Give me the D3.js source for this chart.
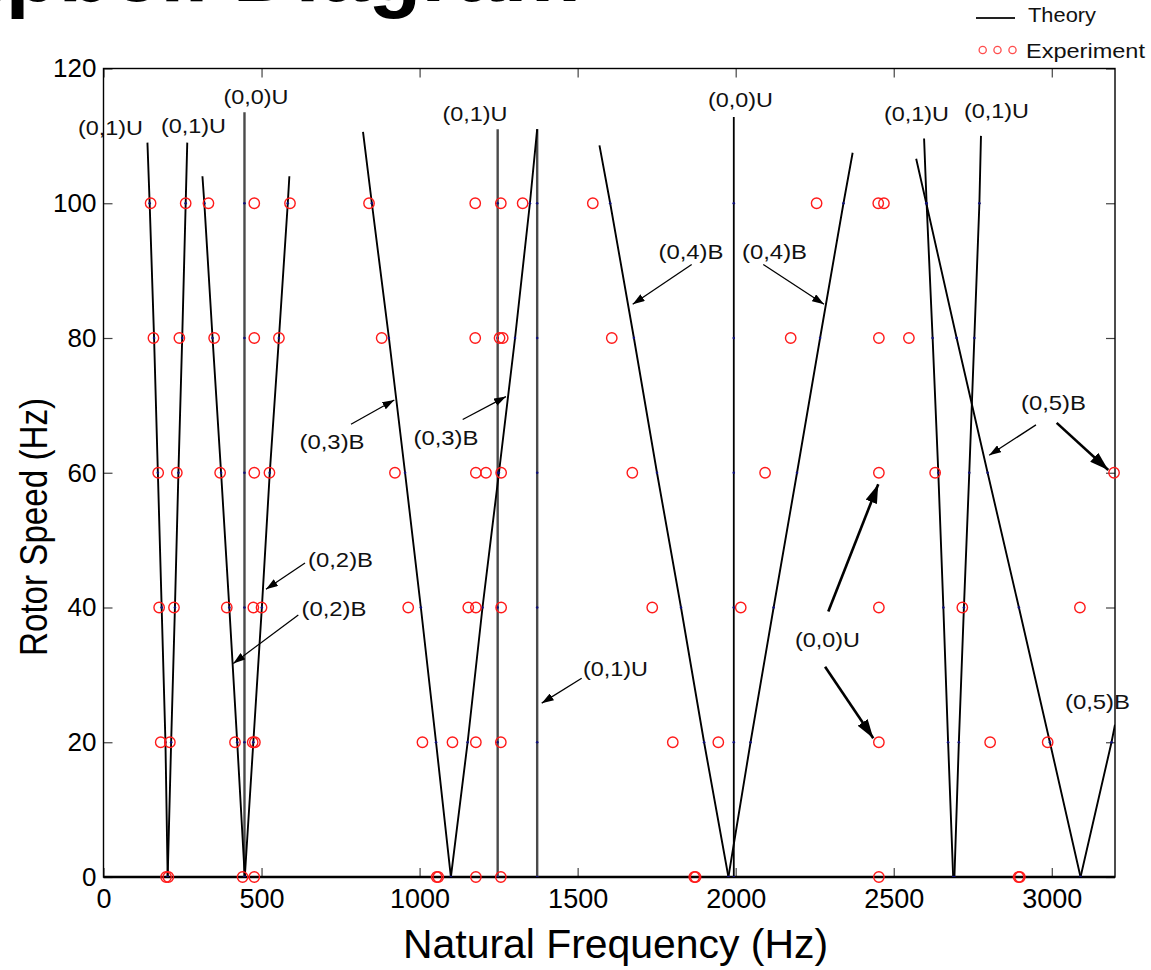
<!DOCTYPE html>
<html>
<head>
<meta charset="utf-8">
<script src="https://cdn.jsdelivr.net/npm/d3@7"></script>
<style>
  body { margin: 0; background: #fff; }
  svg { display: block; }
  text { font-family: "Liberation Sans", Arial, Helvetica, sans-serif; }
</style>
</head>
<body>
<svg id="chart" width="1151" height="970"></svg>
<script>
// ---- Axis ticks ----
const freqTicks = [0, 500, 1000, 1500, 2000, 2500, 3000];
const speedTicks = [0, 20, 40, 60, 80, 100, 120];

// ---- Measured natural frequencies (Hz) at each rotor speed ----
const rotorSpeeds = [0, 20, 40, 60, 80, 100];
const expAt0   = [198, 205, 440, 477, 1054, 1059, 1178, 1257, 1869, 1873, 2453, 2895, 2899];
const expAt20  = [181, 210, 416, 472, 479, 1009, 1104, 1178, 1257, 1801, 1945, 2453, 2805, 2987];
const expAt40  = [176, 223, 390, 474, 500, 964, 1154, 1178, 1258, 1736, 2016, 2453, 2717, 3089];
const expAt60  = [173, 232, 369, 477, 525, 922, 1178, 1210, 1258, 1673, 2093, 2453, 2631, 3197];
const expAt80  = [158, 240, 350, 477, 555, 880, 1176, 1253, 1263, 1608, 2174, 2453, 2548];
const expAt100 = [149, 260, 332, 477, 590, 840, 1176, 1257, 1326, 1548, 2256, 2451, 2469];

// ---- Predicted branches: [rotor speed, frequency]; the last pair is the line end ----
const mode01aBack = [[0,203],[20,196],[40,184],[60,172],[80,160],[100,146],[109,139]];
const mode01aFwd  = [[0,203],[20,214],[40,226],[60,237],[80,249],[100,260],[109,265]];
const mode02Back  = [[0,447],[20,423],[40,398],[60,372],[80,345],[100,319],[104,313]];
const mode02Fwd   = [[0,447],[20,474],[40,501],[60,526],[80,555],[100,583],[104,588]];
const mode03Back  = [[0,1099],[20,1052],[40,1004],[60,954],[80,903],[100,849],[110.6,821]];
const mode03Fwd   = [[0,1099],[20,1152],[40,1199],[60,1251],[80,1302],[100,1349],[111,1372]];
const mode04Back  = [[0,1977],[20,1900],[40,1827],[60,1751],[80,1678],[100,1603],[108.6,1569]];
const mode04Fwd   = [[0,1977],[20,2047],[40,2120],[60,2194],[80,2267],[100,2341],[107.5,2370]];
const mode01bBack = [[0,2688],[20,2672],[40,2657],[60,2641],[80,2623],[100,2604],[109.6,2596]];
const mode01bFwd  = [[0,2692],[20,2706],[40,2722],[60,2739],[80,2755],[100,2771],[110,2776]];
const mode05Back  = [[0,3091],[20,2994],[40,2896],[60,2797],[80,2699],[100,2603],[106.6,2571]];
const mode05Fwd   = [[0,3091],[20,3189],[22.6,3200]];

// Speed-independent modes: frequency and top speed of the line
const fixedFreq = [446, 1247, 1372, 1994];
const fixedTop  = [113.5, 111, 111, 112.8];

// ---- Annotations ----
const labelText  = ["(0,1)U","(0,1)U","(0,0)U","(0,1)U","(0,0)U","(0,1)U","(0,1)U",
                    "(0,4)B","(0,4)B","(0,3)B","(0,3)B","(0,2)B","(0,2)B","(0,1)U",
                    "(0,5)B","(0,0)U","(0,5)B"];
const labelFreq  = [22.1, 284.7, 482.4, 1175.3, 2015.2, 2572, 2825,
                    1858.6, 2122.8, 722.9, 1083.5, 749.8, 729.2, 1619.7,
                    3005.4, 2290.4, 3144.6];
const labelSpeed = [111.2, 111.6, 115.8, 113.4, 115.4, 113.3, 113.8,
                    92.9, 92.9, 64.7, 65.2, 47.2, 39.8, 31.0,
                    70.4, 35.2, 26.1];
// [freq from, speed from, freq to, speed to]
const thinArrows = [
  [1860.8, 90.9, 1674.2, 85.0],
  [2087.3, 90.9, 2279.4, 85.0],
  [783, 67.2, 920, 70.8],
  [1136.4, 67.9, 1273.3, 71.3],
  [637.5, 46.6, 514, 42.7],
  [616.3, 38.9, 410.6, 31.7],
  [1512.8, 29.5, 1386.3, 25.8],
  [2950, 67.1, 2802, 62.6]
];
const boldArrows = [
  [3015.5, 67.4, 3178.7, 60.4],
  [2293, 39.4, 2451, 58.3],
  [2282.8, 31.2, 2435.3, 20.6]
];

// ---- Build the chart ----
const svg = d3.select("#chart");
const x = d3.scaleLinear().domain([0, 3200]).range([103.5, 1115]);
const y = d3.scaleLinear().domain([0, 120]).range([877, 68.5]);
const [x0, x1] = x.range();
const [yb, yt] = y.range();

// Title (runs off the top edge of the page)
svg.append("text")
  .attr("x", -183).attr("y", 1)
  .attr("font-size", 87).attr("font-weight", "bold")
  .attr("fill", "#000")
  .text("Campbell Diagram");

const defs = svg.append("defs");
defs.append("clipPath").attr("id", "plotClip")
  .append("rect").attr("x", x0).attr("y", yt).attr("width", x1 - x0).attr("height", yb - yt);

function marker(id, len, wid) {
  defs.append("marker")
    .attr("id", id)
    .attr("markerUnits", "userSpaceOnUse")
    .attr("viewBox", `0 0 ${len} ${wid}`)
    .attr("markerWidth", len).attr("markerHeight", wid)
    .attr("refX", len).attr("refY", wid / 2)
    .attr("orient", "auto")
    .append("path")
    .attr("d", `M0,0 L${len},${wid / 2} L0,${wid} Z`)
    .attr("fill", "#000");
}
marker("headThin", 12, 8);
marker("headBold", 19, 12);

// Axes with inward ticks on all four sides
const tickLen = 9;
const gBottom = svg.append("g").attr("transform", `translate(0,${yb})`)
  .call(d3.axisBottom(x).tickValues(freqTicks).tickSizeInner(-tickLen).tickSizeOuter(0).tickPadding(12).tickFormat(d3.format("d")));
const gLeft = svg.append("g").attr("transform", `translate(${x0},0)`)
  .call(d3.axisLeft(y).tickValues(speedTicks).tickSizeInner(-tickLen).tickSizeOuter(0).tickPadding(7).tickFormat(d3.format("d")));
const gTop = svg.append("g").attr("transform", `translate(0,${yt})`)
  .call(d3.axisTop(x).tickValues(freqTicks).tickSizeInner(-tickLen).tickSizeOuter(0).tickFormat(""));
const gRight = svg.append("g").attr("transform", `translate(${x1},0)`)
  .call(d3.axisRight(y).tickValues(speedTicks).tickSizeInner(-tickLen).tickSizeOuter(0).tickFormat(""));
[gBottom, gLeft, gTop, gRight].forEach(g => {
  g.select(".domain").remove();
  g.selectAll(".tick line").attr("stroke", "#444").attr("stroke-width", 1.2);
  g.selectAll(".tick text").attr("fill", "#000")
    .style("font-family", '"Liberation Sans", Arial, sans-serif');
});
gBottom.selectAll(".tick text").attr("font-size", 27);
gLeft.selectAll(".tick text").attr("font-size", 26);

// Frame
svg.append("rect").attr("x", x0).attr("y", yt).attr("width", x1 - x0).attr("height", yb - yt)
  .attr("fill", "none").attr("stroke", "#000").attr("stroke-width", 1.4);
svg.append("line").attr("x1", x0).attr("x2", x1).attr("y1", yb).attr("y2", yb)
  .attr("stroke", "#000").attr("stroke-width", 2.4);

// Predicted curves
const plot = svg.append("g").attr("clip-path", "url(#plotClip)");
const branches = [mode01aBack, mode01aFwd, mode02Back, mode02Fwd, mode03Back, mode03Fwd,
                  mode04Back, mode04Fwd, mode01bBack, mode01bFwd, mode05Back, mode05Fwd];
const line = d3.line().x(d => x(d[1])).y(d => y(d[0]));

fixedFreq.forEach((f, i) => {
  plot.append("line")
    .attr("x1", x(f)).attr("x2", x(f))
    .attr("y1", y(0)).attr("y2", y(fixedTop[i]))
    .attr("stroke", i === 3 ? "#000" : "#4a4a4a")
    .attr("stroke-width", i === 3 ? 1.8 : 2.4);
});
plot.selectAll("path.branch").data(branches).join("path")
  .attr("class", "branch")
  .attr("d", line)
  .attr("fill", "none")
  .attr("stroke", "#000")
  .attr("stroke-width", 1.9);

// Small markers at the computed speeds
const theoryPts = [];
branches.forEach(b => b.slice(0, -1).forEach(p => theoryPts.push(p)));
fixedFreq.forEach(f => rotorSpeeds.forEach(s => theoryPts.push([s, f])));
plot.selectAll("circle.tp").data(theoryPts).join("circle")
  .attr("class", "tp")
  .attr("cx", d => x(d[1])).attr("cy", d => y(d[0]))
  .attr("r", 1.3).attr("fill", "#10107a");

// Measured points
const expRows = [expAt0, expAt20, expAt40, expAt60, expAt80, expAt100];
const expPts = [];
expRows.forEach((row, i) => row.forEach(f => expPts.push([rotorSpeeds[i], f])));
svg.append("g").selectAll("circle").data(expPts).join("circle")
  .attr("cx", d => x(d[1])).attr("cy", d => y(d[0]))
  .attr("r", 5.2)
  .attr("fill", "none").attr("stroke", "#ff1a1a").attr("stroke-width", 1.4);

// Arrows
const arrowG = svg.append("g");
arrowG.selectAll("line.thin").data(thinArrows).join("line")
  .attr("class", "thin")
  .attr("x1", d => x(d[0])).attr("y1", d => y(d[1]))
  .attr("x2", d => x(d[2])).attr("y2", d => y(d[3]))
  .attr("stroke", "#000").attr("stroke-width", 1.3)
  .attr("marker-end", "url(#headThin)");
arrowG.selectAll("line.bold").data(boldArrows).join("line")
  .attr("class", "bold")
  .attr("x1", d => x(d[0])).attr("y1", d => y(d[1]))
  .attr("x2", d => x(d[2])).attr("y2", d => y(d[3]))
  .attr("stroke", "#000").attr("stroke-width", 2.6)
  .attr("marker-end", "url(#headBold)");

// Mode labels
svg.append("g").selectAll("text").data(labelText).join("text")
  .attr("x", (d, i) => x(labelFreq[i]))
  .attr("y", (d, i) => y(labelSpeed[i]))
  .attr("dy", "0.36em")
  .attr("text-anchor", "middle")
  .attr("font-size", 21)
  .attr("textLength", 65)
  .attr("lengthAdjust", "spacingAndGlyphs")
  .attr("fill", "#111")
  .text(d => d);

// Axis titles
svg.append("text")
  .attr("x", 615.5).attr("y", 958)
  .attr("text-anchor", "middle")
  .attr("font-size", 40)
  .attr("textLength", 425).attr("lengthAdjust", "spacingAndGlyphs")
  .attr("fill", "#000")
  .text("Natural Frequency (Hz)");
svg.append("text")
  .attr("transform", "translate(47,527) rotate(-90)")
  .attr("text-anchor", "middle")
  .attr("font-size", 38)
  .attr("textLength", 258).attr("lengthAdjust", "spacingAndGlyphs")
  .attr("fill", "#000")
  .text("Rotor Speed (Hz)");

// Legend
const legend = svg.append("g");
legend.append("line").attr("x1", 976).attr("x2", 1015).attr("y1", 18).attr("y2", 18)
  .attr("stroke", "#222").attr("stroke-width", 2);
legend.append("text").attr("x", 1028).attr("y", 21.5).attr("font-size", 21)
  .attr("textLength", 68).attr("lengthAdjust", "spacingAndGlyphs")
  .attr("fill", "#111").text("Theory");
legend.selectAll("circle").data([982.7, 997.5, 1012.5]).join("circle")
  .attr("cx", d => d).attr("cy", 50).attr("r", 3.6)
  .attr("fill", "none").attr("stroke", "#ff4d4d").attr("stroke-width", 1.3);
legend.append("text").attr("x", 1026).attr("y", 57.5).attr("font-size", 21)
  .attr("textLength", 119).attr("lengthAdjust", "spacingAndGlyphs")
  .attr("fill", "#111").text("Experiment");
</script>
</body>
</html>
